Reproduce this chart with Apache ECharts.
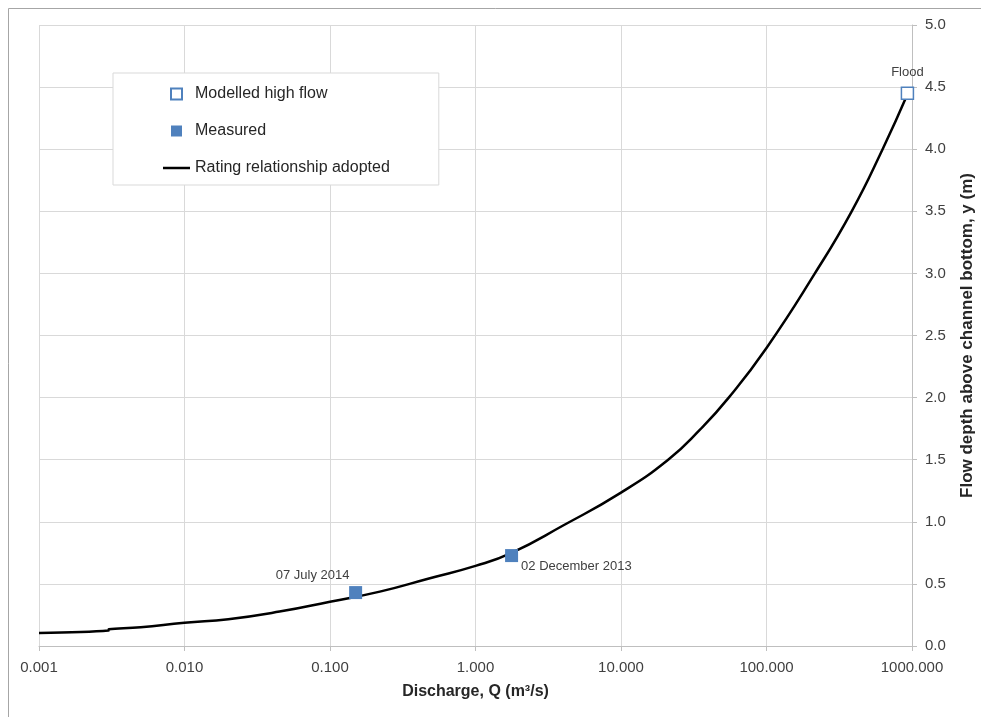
<!DOCTYPE html>
<html>
<head>
<meta charset="utf-8">
<script src="https://cdn.jsdelivr.net/npm/echarts@6/dist/echarts.min.js"></script>
<style>html,body{margin:0;padding:0;background:#fff;overflow:hidden}#c{width:981px;height:717px}</style>
</head>
<body>
<div id="c"></div>
<script>
// Rating relationship adopted: [Q (m3/s), depth (m)]
var ratingQ = [0.001, 0.003, 0.00302, 0.005, 0.01, 0.02, 0.045, 0.1, 0.22, 0.486, 1.0, 1.77, 4.0, 10, 21.1, 34.9, 55, 100, 215, 385, 628, 929];
var ratingY = [0.105, 0.124, 0.135, 0.151, 0.188, 0.216, 0.277, 0.357, 0.438, 0.546, 0.645, 0.75, 0.97, 1.235, 1.5, 1.742, 2.0, 2.40, 3.0, 3.5, 4.0, 4.44];
// Measured points
var measuredQ = [0.15, 1.77];
var measuredY = [0.43, 0.728];
var measuredNames = ['07 July 2014', '02 December 2013'];
// Modelled high flow
var modelledQ = [930];
var modelledY = [4.45];
var modelledNames = ['Flood'];
// Axis ticks
var yTicks = [0, 0.5, 1, 1.5, 2, 2.5, 3, 3.5, 4, 4.5, 5];

var FONT = 'Liberation Sans';
var rating = ratingQ.map(function (q, i) { return [q, ratingY[i]]; });
var measured = measuredQ.map(function (q, i) {
  var lab = i === 0
    ? { show: true, position: 'top', distance: 4, offset: [-43, 0] }
    : { show: true, position: 'right', distance: 3, offset: [0, 11] };
  lab.formatter = measuredNames[i];
  return { value: [q, measuredY[i]], label: lab };
});
var modelled = modelledQ.map(function (q, i) {
  return { value: [q, modelledY[i]], label: { show: true, position: 'top', distance: 8, formatter: modelledNames[i] } };
});

var chart = echarts.init(document.getElementById('c'), null, { renderer: 'canvas' });
chart.setOption({
  animation: false,
  backgroundColor: '#fff',
  textStyle: { fontFamily: FONT },
  graphic: [{
    type: 'rect', shape: { x: 8.5, y: 8.5, width: 1200, height: 1200 },
    style: { fill: 'none', stroke: '#a6a6a6', lineWidth: 1 }, silent: true, z: -10
  }],
  grid: { left: 39, right: 69, top: 25, bottom: 71, containLabel: false, outerBoundsMode: 'none' },
  legend: {
    orient: 'vertical', left: 113, top: 73,
    padding: [13, 49, 9, 50],
    itemGap: 21, itemWidth: 27, itemHeight: 11,
    symbolKeepAspect: true,
    borderColor: '#d9d9d9', borderWidth: 1, backgroundColor: '#fff',
    textStyle: { fontFamily: FONT, fontSize: 16, color: '#262626', width: 200 },
    data: [
      { name: 'Modelled high flow', icon: 'path://M0,0h10v10h-10z' },
      { name: 'Measured', icon: 'path://M0,0h10v10h-10z' },
      { name: 'Rating relationship adopted', icon: 'path://M0,0h27v2.5h-27z' }
    ]
  },
  xAxis: {
    type: 'log', logBase: 10, min: 0.001, max: 1000, splitNumber: 6,
    name: 'Discharge, Q (m³/s)', nameLocation: 'middle', nameGap: 38,
    nameTextStyle: { fontFamily: FONT, fontSize: 16, fontWeight: 'bold', color: '#262626' },
    axisLine: { show: true, lineStyle: { color: '#bfbfbf' } },
    axisTick: { show: true, length: 5, lineStyle: { color: '#bfbfbf' } },
    minorTick: { show: false },
    axisLabel: {
      margin: 14, fontFamily: FONT, fontSize: 15, color: '#404040',
      showMinLabel: true, showMaxLabel: true,
      formatter: function (v) { return Number(v).toFixed(3); }
    },
    splitLine: { show: true, lineStyle: { color: '#d9d9d9' } }
  },
  yAxis: {
    type: 'value', position: 'right', min: yTicks[0], max: yTicks[yTicks.length - 1], interval: 0.5,
    name: 'Flow depth above channel bottom, y (m)', nameLocation: 'middle', nameGap: 47, nameRotate: 90,
    nameTextStyle: { fontFamily: FONT, fontSize: 17, fontWeight: 'bold', color: '#262626' },
    axisLine: { show: true, lineStyle: { color: '#bfbfbf' } },
    axisTick: { show: true, length: 5, inside: false, lineStyle: { color: '#bfbfbf' } },
    axisLabel: {
      margin: 13, fontFamily: FONT, fontSize: 15, color: '#404040',
      formatter: function (v) { return Number(v).toFixed(1); }
    },
    splitLine: { show: true, lineStyle: { color: '#d9d9d9' } }
  },
  series: [
    {
      name: 'Modelled high flow', type: 'scatter', data: modelled,
      symbol: 'rect', symbolSize: 12,
      itemStyle: { color: '#fff', borderColor: '#4f81bd', borderWidth: 1.5, opacity: 1 },
      label: { fontFamily: FONT, fontSize: 13, color: '#404040' },
      z: 5
    },
    {
      name: 'Measured', type: 'scatter', data: measured,
      symbol: 'rect', symbolSize: 13,
      itemStyle: { color: '#4f81bd', opacity: 1 },
      label: { fontFamily: FONT, fontSize: 13, color: '#404040' },
      z: 4
    },
    {
      name: 'Rating relationship adopted', type: 'line', data: rating,
      showSymbol: false, symbol: 'none', smooth: 0.5,
      lineStyle: { color: '#000', width: 2.5 },
      itemStyle: { color: '#000' },
      z: 3
    }
  ]
});
</script>
</body>
</html>
